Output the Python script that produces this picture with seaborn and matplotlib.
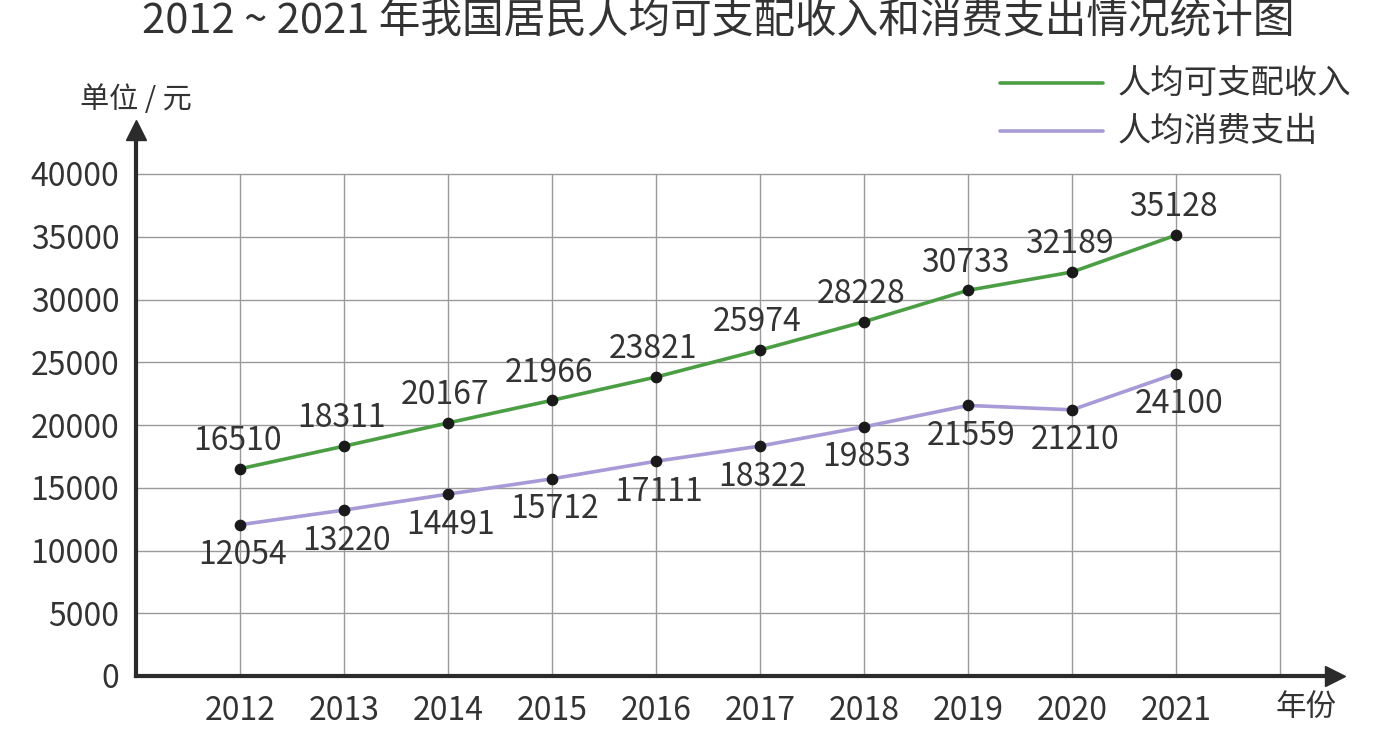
import matplotlib
matplotlib.use("Agg")
import matplotlib.pyplot as plt
import seaborn as sns
import pandas as pd

# ── data ─────────────────────────────────────────────────────────────────
years = [2012, 2013, 2014, 2015, 2016, 2017, 2018, 2019, 2020, 2021]
income = [16510, 18311, 20167, 21966, 23821, 25974, 28228, 30733, 32189, 35128]
spending = [12054, 13220, 14491, 15712, 17111, 18322, 19853, 21559, 21210, 24100]
y_ticks = [0, 5000, 10000, 15000, 20000, 25000, 30000, 35000, 40000]

income_name = "人均可支配收入"
spending_name = "人均消费支出"

df = pd.DataFrame({"年份": years, income_name: income, spending_name: spending})
long_df = df.melt(id_vars="年份", var_name="项目", value_name="金额")

# ── style ────────────────────────────────────────────────────────────────
sns.set_theme(style="white")
plt.rcParams["font.family"] = ["Noto Sans CJK SC", "DejaVu Sans"]
text_col = "#333333"
green = "#4c9e45"
purple = "#a79ad6"

fig = plt.figure(figsize=(13.86, 7.41), dpi=100)
ax = fig.add_axes([136 / 1386, 65 / 741, (1335 - 136) / 1386, (676 - 130) / 741])

# grid drawn by hand so it stops short of the arrows
ax.hlines(y_ticks[1:], 2011, 2022, color="#9a9a9a", lw=1.0, zorder=0)
ax.vlines(years + [2022], 0, 40000, color="#9a9a9a", lw=1.0, zorder=0)

sns.lineplot(data=long_df, x="年份", y="金额", hue="项目",
             palette={income_name: green, spending_name: purple},
             lw=2.6, legend=False, ax=ax, zorder=2)
ax.scatter(years + years, income + spending, s=55, color="#1a1a1a", zorder=3)

for x, v in zip(years, income):
    ax.annotate(str(v), (x, v), xytext=(-2, 20), textcoords="offset points",
                ha="center", va="center", fontsize=23, color=text_col)
for x, v in zip(years, spending):
    ax.annotate(str(v), (x, v), xytext=(2, -22), textcoords="offset points",
                ha="center", va="center", fontsize=23, color=text_col)

# 1 year = 104 px, 5000 = 62.75 px
ax.set_xlim(2011, 2011 + (1335 - 136) / 104)
ax.set_ylim(0, (676 - 130) / 62.75 * 5000)
ax.set_xticks(years)
ax.set_yticks(y_ticks)
ax.tick_params(axis="both", length=0, labelsize=23, labelcolor=text_col)
ax.tick_params(axis="x", pad=14)
ax.tick_params(axis="y", pad=12)
ax.set_xlabel("")
ax.set_ylabel("")

for s in ["top", "right"]:
    ax.spines[s].set_visible(False)
for s in ["left", "bottom"]:
    ax.spines[s].set_color("#2b2b2b")
    ax.spines[s].set_linewidth(3)
ax.plot(1, 0, ">", color="#2b2b2b", ms=14, transform=ax.transAxes, clip_on=False)
ax.plot(0, 1, "^", color="#2b2b2b", ms=14, transform=ax.transAxes, clip_on=False)

# axis captions
fig.text(80 / 1386, 1 - 100 / 741, "单位 / 元", fontsize=21, color=text_col,
         ha="left", va="center")
fig.text(1276 / 1386, 1 - 707 / 741, "年份", fontsize=22, color=text_col,
         ha="left", va="center")

# legend (hand placed, as in the printed chart)
for yy, col, name in [(83, green, income_name), (131, purple, spending_name)]:
    fig.add_artist(plt.Line2D([1000 / 1386, 1103 / 1386], [1 - yy / 741] * 2,
                              color=col, lw=2.6))
    fig.text(1118 / 1386, 1 - yy / 741, name,
             fontsize=24, color=text_col, ha="left", va="center")

fig.text(718 / 1386, 1 - 22 / 741, "2012 ~ 2021 年我国居民人均可支配收入和消费支出情况统计图",
         fontsize=30, color=text_col, ha="center", va="center")

fig.savefig("out.png", dpi=100, facecolor="white")
